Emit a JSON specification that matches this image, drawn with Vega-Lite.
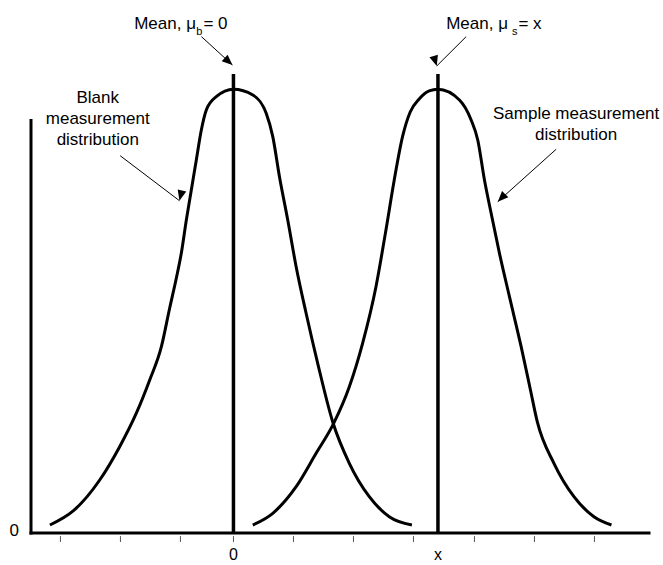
{
  "$schema": "https://vega.github.io/schema/vega-lite/v6.json",
  "width": 618,
  "height": 414,
  "autosize": {"type": "none"},
  "padding": {"left": 31, "top": 119, "right": 14, "bottom": 32},
  "background": "white",
  "config": {"view": {"stroke": null}, "font": "Liberation Sans"},
  "datasets": {
    "curves": [
      {"curve": "Blank", "x": -8.975, "y": 0.018},
      {"curve": "Blank", "x": -7.838, "y": 0.0496},
      {"curve": "Blank", "x": -6.54, "y": 0.1194},
      {"curve": "Blank", "x": -5.564, "y": 0.1945},
      {"curve": "Blank", "x": -4.744, "y": 0.2705},
      {"curve": "Blank", "x": -4.095, "y": 0.3448},
      {"curve": "Blank", "x": -3.524, "y": 0.4199},
      {"curve": "Blank", "x": -3.118, "y": 0.5071},
      {"curve": "Blank", "x": -2.792, "y": 0.5747},
      {"curve": "Blank", "x": -2.548, "y": 0.631},
      {"curve": "Blank", "x": -2.304, "y": 0.7054},
      {"curve": "Blank", "x": -2.06, "y": 0.773},
      {"curve": "Blank", "x": -1.816, "y": 0.8407},
      {"curve": "Blank", "x": -1.571, "y": 0.9083},
      {"curve": "Blank", "x": -1.327, "y": 0.9534},
      {"curve": "Blank", "x": -0.839, "y": 0.9833},
      {"curve": "Blank", "x": 0, "y": 1.0},
      {"curve": "Blank", "x": 0.947, "y": 0.9871},
      {"curve": "Blank", "x": 1.601, "y": 0.9459},
      {"curve": "Blank", "x": 1.923, "y": 0.8932},
      {"curve": "Blank", "x": 2.25, "y": 0.803},
      {"curve": "Blank", "x": 2.655, "y": 0.7054},
      {"curve": "Blank", "x": 3.065, "y": 0.6002},
      {"curve": "Blank", "x": 3.553, "y": 0.4952},
      {"curve": "Blank", "x": 4.119, "y": 0.3825},
      {"curve": "Blank", "x": 4.851, "y": 0.2508},
      {"curve": "Blank", "x": 5.666, "y": 0.1571},
      {"curve": "Blank", "x": 6.642, "y": 0.0818},
      {"curve": "Blank", "x": 7.618, "y": 0.0367},
      {"curve": "Blank", "x": 8.726, "y": 0.018},
      {"curve": "Sample", "x": 0.947, "y": 0.018},
      {"curve": "Sample", "x": 1.923, "y": 0.0444},
      {"curve": "Sample", "x": 3.065, "y": 0.1043},
      {"curve": "Sample", "x": 4.041, "y": 0.1796},
      {"curve": "Sample", "x": 4.9, "y": 0.2472},
      {"curve": "Sample", "x": 5.666, "y": 0.3297},
      {"curve": "Sample", "x": 6.315, "y": 0.4275},
      {"curve": "Sample", "x": 6.969, "y": 0.5551},
      {"curve": "Sample", "x": 7.457, "y": 0.6829},
      {"curve": "Sample", "x": 7.862, "y": 0.7956},
      {"curve": "Sample", "x": 8.268, "y": 0.8932},
      {"curve": "Sample", "x": 8.643, "y": 0.9488},
      {"curve": "Sample", "x": 9.083, "y": 0.9781},
      {"curve": "Sample", "x": 9.571, "y": 0.9962},
      {"curve": "Sample", "x": 10.0, "y": 1.0},
      {"curve": "Sample", "x": 11.051, "y": 0.9759},
      {"curve": "Sample", "x": 11.623, "y": 0.9308},
      {"curve": "Sample", "x": 11.946, "y": 0.8857},
      {"curve": "Sample", "x": 12.274, "y": 0.7956},
      {"curve": "Sample", "x": 12.601, "y": 0.7205},
      {"curve": "Sample", "x": 13.007, "y": 0.6304},
      {"curve": "Sample", "x": 13.496, "y": 0.5326},
      {"curve": "Sample", "x": 14.068, "y": 0.4199},
      {"curve": "Sample", "x": 14.523, "y": 0.3223},
      {"curve": "Sample", "x": 14.856, "y": 0.2508},
      {"curve": "Sample", "x": 15.672, "y": 0.1571},
      {"curve": "Sample", "x": 16.65, "y": 0.0818},
      {"curve": "Sample", "x": 17.628, "y": 0.0367},
      {"curve": "Sample", "x": 18.484, "y": 0.018}
    ],
    "means": [{"name": "Blank mean", "x": 0}, {"name": "Sample mean", "x": 10}],
    "ticks": [
      {"x": -8.46}, {"x": -5.526}, {"x": -2.592}, {"x": 0}, {"x": 2.934},
      {"x": 5.868}, {"x": 8.802}, {"x": 11.785}, {"x": 14.719}, {"x": 17.653}
    ],
    "xLabels": [{"text": "0", "x": 0}, {"text": "x", "x": 10}],
    "arrows": [
      {"id": "A1", "x": -1.565, "y": 1.1186, "x2": -0.049, "y2": 1.0547},
      {"id": "A2", "x": 11.379, "y": 1.1186, "x2": 9.941, "y2": 1.0525},
      {"id": "A3", "x": -5.54, "y": 0.8503, "x2": -2.641, "y2": 0.7489},
      {"id": "A4", "x": 15.78, "y": 0.8648, "x2": 12.924, "y2": 0.7467}
    ],
    "notes": [
      {"text": "Blank", "x": -6.636, "y": 0.968},
      {"text": "measurement", "x": -6.636, "y": 0.9211},
      {"text": "distribution", "x": -6.636, "y": 0.8745},
      {"text": "Sample measurement", "x": 16.758, "y": 0.9319},
      {"text": "distribution", "x": 16.758, "y": 0.8857}
    ],
    "meanMain": [
      {"text": "Mean, μ", "x": -1.834, "y": 1.1352},
      {"text": "Mean, μ", "x": 13.423, "y": 1.1352}
    ],
    "meanSub": [
      {"text": "b", "x": -1.819, "y": 1.1224},
      {"text": "s", "x": 13.619, "y": 1.1224}
    ],
    "meanValue": [
      {"text": "= 0", "x": -1.467, "y": 1.1352},
      {"text": "= x", "x": 13.936, "y": 1.1352}
    ]
  },
  "layer": [
    {
      "data": {"name": "ticks"},
      "mark": {"type": "rule", "color": "#555", "strokeWidth": 1},
      "encoding": {
        "x": {"field": "x", "type": "quantitative", "scale": {"domain": [-9.9, 20.32], "nice": false, "zero": false}, "axis": null},
        "y": {"datum": -0.007, "type": "quantitative", "scale": {"domain": [0, 0.933], "nice": false, "zero": false}, "axis": null},
        "y2": {"datum": -0.0203}
      }
    },
    {
      "data": {"values": [{"axis": "x"}]},
      "mark": {"type": "rule", "color": "black", "strokeWidth": 3, "strokeCap": "square"},
      "encoding": {
        "x": {"datum": -9.9, "type": "quantitative", "scale": {"domain": [-9.9, 20.32], "nice": false, "zero": false}, "axis": null},
        "x2": {"datum": 20.32},
        "y": {"datum": 0, "type": "quantitative", "scale": {"domain": [0, 0.933], "nice": false, "zero": false}, "axis": null}
      }
    },
    {
      "data": {"values": [{"axis": "y"}]},
      "mark": {"type": "rule", "color": "black", "strokeWidth": 3},
      "encoding": {
        "x": {"datum": -9.9, "type": "quantitative", "scale": {"domain": [-9.9, 20.32], "nice": false, "zero": false}, "axis": null},
        "y": {"datum": -0.0034, "type": "quantitative", "scale": {"domain": [0, 0.933], "nice": false, "zero": false}, "axis": null},
        "y2": {"datum": 0.933}
      }
    },
    {
      "data": {"name": "xLabels"},
      "mark": {"type": "text", "font": "Liberation Sans", "fontSize": 16, "align": "center", "baseline": "alphabetic", "color": "black"},
      "encoding": {
        "x": {"field": "x", "type": "quantitative", "scale": {"domain": [-9.9, 20.32], "nice": false, "zero": false}, "axis": null},
        "y": {"datum": -0.0609, "type": "quantitative", "scale": {"domain": [0, 0.933], "nice": false, "zero": false}, "axis": null},
        "text": {"field": "text"}
      }
    },
    {
      "data": {"values": [{"text": "0"}]},
      "mark": {"type": "text", "font": "Liberation Sans", "fontSize": 17, "align": "center", "baseline": "alphabetic", "color": "black"},
      "encoding": {
        "x": {"datum": -10.72, "type": "quantitative", "scale": {"domain": [-9.9, 20.32], "nice": false, "zero": false}, "axis": null},
        "y": {"datum": -0.0068, "type": "quantitative", "scale": {"domain": [0, 0.933], "nice": false, "zero": false}, "axis": null},
        "text": {"field": "text"}
      }
    },
    {
      "data": {"name": "curves"},
      "mark": {"type": "line", "color": "black", "strokeWidth": 3, "interpolate": "monotone"},
      "encoding": {
        "x": {"field": "x", "type": "quantitative", "scale": {"domain": [-9.9, 20.32], "nice": false, "zero": false}, "axis": null},
        "y": {"field": "y", "type": "quantitative", "scale": {"domain": [0, 0.933], "nice": false, "zero": false}, "axis": null},
        "detail": {"field": "curve", "type": "nominal"}
      }
    },
    {
      "data": {"name": "means"},
      "mark": {"type": "rule", "color": "black", "strokeWidth": 3.5},
      "encoding": {
        "x": {"field": "x", "type": "quantitative", "scale": {"domain": [-9.9, 20.32], "nice": false, "zero": false}, "axis": null},
        "y": {"datum": 0, "type": "quantitative", "scale": {"domain": [0, 0.933], "nice": false, "zero": false}, "axis": null},
        "y2": {"datum": 1.0345}
      }
    },
    {
      "data": {"name": "arrows"},
      "mark": {"type": "rule", "color": "black", "strokeWidth": 1},
      "encoding": {
        "x": {"field": "x", "type": "quantitative", "scale": {"domain": [-9.9, 20.32], "nice": false, "zero": false}, "axis": null},
        "y": {"field": "y", "type": "quantitative", "scale": {"domain": [0, 0.933], "nice": false, "zero": false}, "axis": null},
        "x2": {"field": "x2"},
        "y2": {"field": "y2"}
      }
    },
    {
      "data": {"name": "arrows"},
      "mark": {"type": "point", "filled": true, "color": "black", "opacity": 1, "strokeWidth": 0, "size": 441, "shape": "M0,0L0.42,1L-0.42,1Z"},
      "encoding": {
        "x": {"field": "x2", "type": "quantitative", "scale": {"domain": [-9.9, 20.32], "nice": false, "zero": false}, "axis": null},
        "y": {"field": "y2", "type": "quantitative", "scale": {"domain": [0, 0.933], "nice": false, "zero": false}, "axis": null},
        "angle": {"field": "id", "type": "nominal", "scale": {"domain": ["A1", "A2", "A3", "A4"], "range": [132, 225, 127, 228.5]}, "legend": null}
      }
    },
    {
      "data": {"name": "notes"},
      "mark": {"type": "text", "font": "Liberation Sans", "fontSize": 17, "align": "center", "baseline": "alphabetic", "color": "black"},
      "encoding": {
        "x": {"field": "x", "type": "quantitative", "scale": {"domain": [-9.9, 20.32], "nice": false, "zero": false}, "axis": null},
        "y": {"field": "y", "type": "quantitative", "scale": {"domain": [0, 0.933], "nice": false, "zero": false}, "axis": null},
        "text": {"field": "text"}
      }
    },
    {
      "data": {"name": "meanMain"},
      "mark": {"type": "text", "font": "Liberation Sans", "fontSize": 17, "align": "right", "baseline": "alphabetic", "color": "black"},
      "encoding": {
        "x": {"field": "x", "type": "quantitative", "scale": {"domain": [-9.9, 20.32], "nice": false, "zero": false}, "axis": null},
        "y": {"field": "y", "type": "quantitative", "scale": {"domain": [0, 0.933], "nice": false, "zero": false}, "axis": null},
        "text": {"field": "text"}
      }
    },
    {
      "data": {"name": "meanSub"},
      "mark": {"type": "text", "font": "Liberation Sans", "fontSize": 11, "align": "left", "baseline": "alphabetic", "color": "black"},
      "encoding": {
        "x": {"field": "x", "type": "quantitative", "scale": {"domain": [-9.9, 20.32], "nice": false, "zero": false}, "axis": null},
        "y": {"field": "y", "type": "quantitative", "scale": {"domain": [0, 0.933], "nice": false, "zero": false}, "axis": null},
        "text": {"field": "text"}
      }
    },
    {
      "data": {"name": "meanValue"},
      "mark": {"type": "text", "font": "Liberation Sans", "fontSize": 17, "align": "left", "baseline": "alphabetic", "color": "black"},
      "encoding": {
        "x": {"field": "x", "type": "quantitative", "scale": {"domain": [-9.9, 20.32], "nice": false, "zero": false}, "axis": null},
        "y": {"field": "y", "type": "quantitative", "scale": {"domain": [0, 0.933], "nice": false, "zero": false}, "axis": null},
        "text": {"field": "text"}
      }
    }
  ]
}
